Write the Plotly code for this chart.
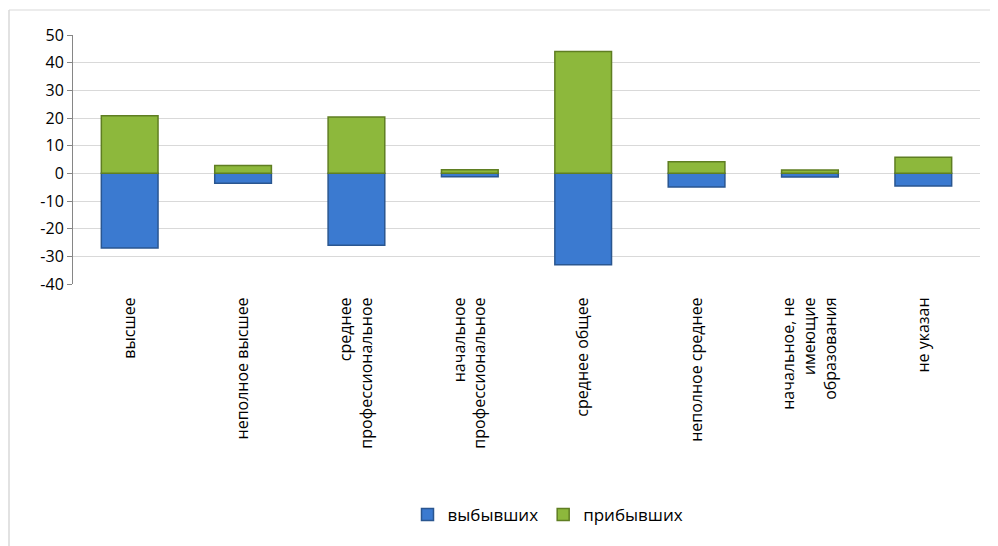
import plotly.graph_objects as go

categories = [
    "высшее",
    "неполное высшее",
    "среднее<br>профессиональное",
    "начальное<br>профессиональное",
    "среднее общее",
    "неполное среднее",
    "начальное, не<br>имеющие<br>образования",
    "не указан",
]
left_vals = [-27, -3.6, -26, -1.2, -33, -4.9, -1.3, -4.6]
arrived_vals = [20.8, 2.8, 20.4, 1.3, 44, 4.2, 1.2, 5.8]
y_ticks = [-40, -30, -20, -10, 0, 10, 20, 30, 40, 50]
y_tick_text = [str(v) for v in y_ticks]

FONT = "Open Sans, Liberation Sans, Arial, sans-serif"

fig = go.Figure()
fig.add_trace(go.Bar(
    x=categories, y=left_vals, name="выбывших",
    marker=dict(color="#3B7AD0", line=dict(color="#2A5690", width=1.5)),
))
fig.add_trace(go.Bar(
    x=categories, y=arrived_vals, name="прибывших",
    marker=dict(color="#8DB83C", line=dict(color="#5F7E22", width=1.5)),
))

# figure is drawn with an 8px page offset, so geometry is in figure px
PLOT_L, PLOT_R, PLOT_T, PLOT_B = 65, 972, 27, 276
W, H = 998, 546
pw = PLOT_R - PLOT_L
ph = PLOT_B - PLOT_T

fig.update_layout(
    barmode="relative",
    bargap=0.5,
    width=W, height=H,
    margin=dict(l=PLOT_L, r=W - PLOT_R, t=PLOT_T, b=H - PLOT_B),
    paper_bgcolor="white", plot_bgcolor="white",
    font=dict(family=FONT, size=16, color="#000000"),
    legend=dict(orientation="h", x=(540 - PLOT_L) / pw, xanchor="center",
                y=(PLOT_B - 507) / ph, yanchor="middle",
                font=dict(size=17), itemwidth=30, traceorder="normal"),
    xaxis=dict(tickangle=-90, showgrid=False, showline=False, ticks="outside",
               ticklen=6, tickcolor="rgba(0,0,0,0)", tickfont=dict(size=16)),
    yaxis=dict(range=[-40, 50], tickvals=y_ticks, ticktext=y_tick_text,
               showgrid=True, gridcolor="#D9D9D9",
               gridwidth=1, zeroline=True, zerolinecolor="#D9D9D9", zerolinewidth=1,
               showline=True, linecolor="#868686", linewidth=1, ticks="outside",
               ticklen=5, tickcolor="#868686", tickfont=dict(size=16)),
    shapes=[
        dict(type="line", xref="paper", yref="paper",
             x0=(1 - PLOT_L) / pw, x1=1.05, y0=(PLOT_B - 2) / ph, y1=(PLOT_B - 2) / ph,
             line=dict(color="#D9D9D9", width=1)),
        dict(type="line", xref="paper", yref="paper",
             x0=(1 - PLOT_L) / pw, x1=(1 - PLOT_L) / pw, y0=(PLOT_B - 2) / ph, y1=-1.2,
             line=dict(color="#D9D9D9", width=1.5)),
    ],
)

fig.write_html("out.html")
